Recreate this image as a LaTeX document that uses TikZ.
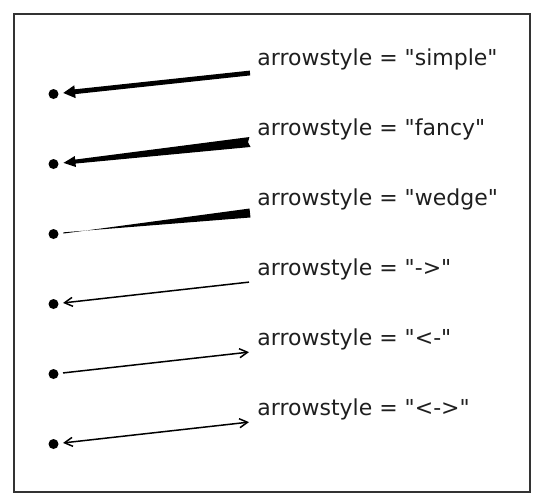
\documentclass[tikz,border=0pt]{standalone}
\usepackage{fontspec}
\setmainfont{DejaVu Sans}
\usepackage{tikz}
\usetikzlibrary{arrows.meta,calc}

\begin{document}
\begin{tikzpicture}
[x=0.5pt,y=-0.5pt,
spot/.style={circle,fill=black,inner sep=0pt,outer sep=0pt,minimum size=5pt},
lbl/.style={anchor=base west,inner sep=0pt,text=black!88,font=\fontsize{11}{13}\selectfont},
thinarrow/.style={line width=0.75pt,shorten >=2.3pt,shorten <=0.5pt},
barb/.tip={Straight Barb[length=4pt,width=4.5pt]}]
\useasboundingbox (0,0) rectangle (542,500);
\draw[black!80,line width=0.75pt] (14,14) rectangle (530,492);

\node[spot] at (53.5,94)  (d1) {};
\node[spot] at (53.5,164) (d2) {};
\node[spot] at (53.5,234) (d3) {};
\node[spot] at (53.5,304) (d4) {};
\node[spot] at (53.5,374) (d5) {};
\node[spot] at (53.5,444) (d6) {};

\coordinate (t1) at (250,73);
\coordinate (t2) at (250,142);
\coordinate (t3) at (250,213);
\coordinate (t4) at (250,282);
\coordinate (t5) at (250,352);
\coordinate (t6) at (250,422);

\node[lbl] at (257,65)  (l1) {arrowstyle = \textquotedbl simple\textquotedbl};
\node[lbl] at (257,135) (l2) {arrowstyle = \textquotedbl fancy\textquotedbl};
\node[lbl] at (257,205) (l3) {arrowstyle = \textquotedbl wedge\textquotedbl};
\node[lbl] at (257,275) (l4) {arrowstyle = \textquotedbl->\textquotedbl};
\node[lbl] at (257,345) (l5) {arrowstyle = \textquotedbl<-\textquotedbl};
\node[lbl] at (257,415) (l6) {arrowstyle = \textquotedbl<->\textquotedbl};

% simple
\draw[line width=2.4pt,-{Triangle[length=6pt,width=6pt]},shorten >=2.3pt] (t1) -- (d1);

% fancy
\coordinate (h2) at ($(d2.center)!5pt!(t2)$);
\coordinate (b2) at ($(h2)!6pt!(t2)$);
\fill ($(t2)!2.5pt!90:(h2)$) -- ($(b2)!1pt!90:(h2)$) -- ($(b2)!2.75pt!90:(h2)$) -- (h2)
  -- ($(b2)!2.75pt!-90:(h2)$) -- ($(b2)!1pt!-90:(h2)$) -- ($(t2)!2.5pt!-90:(h2)$)
  -- ($(t2)!1pt!(h2)$) -- cycle;

% wedge
\coordinate (h3) at ($(d3.center)!5pt!(t3)$);
\fill ($(t3)!2.25pt!90:(h3)$) -- ($(h3)!0.3pt!90:(t3)$) -- ($(h3)!0.3pt!-90:(t3)$)
  -- ($(t3)!2.25pt!-90:(h3)$) -- cycle;

\draw[thinarrow,-barb] (t4) -- (d4);
\draw[thinarrow,barb-] (t5) -- (d5);
\draw[thinarrow,barb-barb] (t6) -- (d6);
\end{tikzpicture}
\end{document}
